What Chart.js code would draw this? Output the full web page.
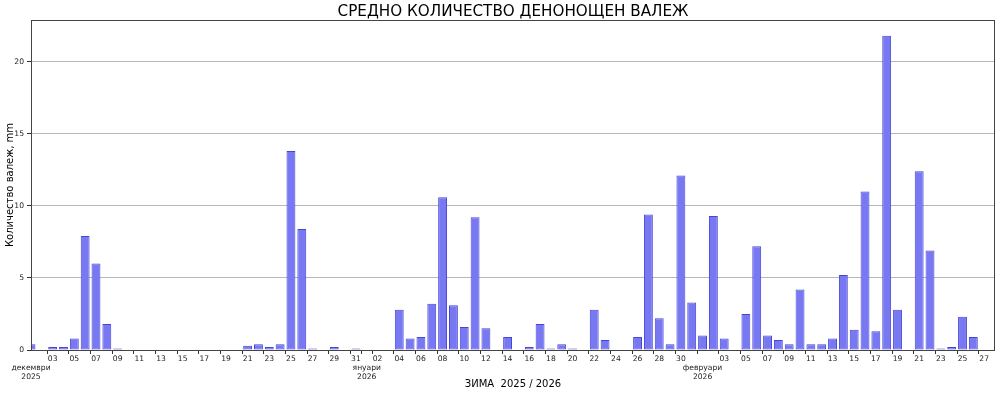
<!DOCTYPE html>
<html>
<head>
<meta charset="utf-8">
<script src="https://cdn.jsdelivr.net/npm/chart.js@4.4.1/dist/chart.umd.min.js"></script>
<style>
  html, body { margin: 0; padding: 0; background: #ffffff; }
  #wrap { width: 1000px; height: 395px; position: relative; }
</style>
</head>
<body>
<div id="wrap"><canvas id="c" width="1000" height="395"></canvas></div>
<script>
// ---- data ----
const decValues = [0.4,0,0.2,0.2,0.8,7.9,6.0,1.8,0.1,0,0,0,0,0,0,0,0,0,0,0,0.3,0.4,0.2,0.4,13.8,8.4,0.1,0,0.2,0,0.1];
const janValues = [0,0,0,2.8,0.8,0.9,3.2,10.6,3.1,1.6,9.2,1.5,0,0.9,0,0.2,1.8,0.1,0.4,0.1,0,2.8,0.7,0,0,0.9,9.4,2.2,0.4,12.1,3.3];
const febValues = [1.0,9.3,0.8,0,2.5,7.2,1.0,0.7,0.4,4.2,0.4,0.4,0.8,5.2,1.4,11.0,1.3,21.8,2.8,0,12.4,6.9,0.1,0.2,2.3,0.9,0,0];
const months = [
  { name: 'декември', year: '2025', days: 31, values: decValues },
  { name: 'януари',   year: '2026', days: 31, values: janValues },
  { name: 'февруари', year: '2026', days: 28, values: febValues }
];
const yTicks = [0, 5, 10, 15, 20];
const yMax = 22.89;
const titleText = 'СРЕДНО КОЛИЧЕСТВО ДЕНОНОЩЕН ВАЛЕЖ';
const yTitle = 'Количество валеж, mm';
const xTitle = 'ЗИМА  2025 / 2026';

// ---- build categories ----
const days = [];
const tickLabels = [];
const values = [];
months.forEach(m => {
  for (let d = 1; d <= m.days; d++) {
    days.push(d);
    values.push(m.values[d - 1]);
  }
});
let monthIdx = 0;
days.forEach((d, i) => {
  if (d === 1) {
    const m = months[monthIdx++];
    tickLabels.push(['', m.name, m.year]);
  } else if (i % 2 === 0) {
    tickLabels.push(String(d).padStart(2, '0'));
  } else {
    tickLabels.push('');
  }
});
const categories = days.map((d, i) => 'd' + i);

const framePlugin = {
  id: 'frame',
  afterDatasetsDraw(chart) {
    const a = chart.chartArea, ctx = chart.ctx;
    ctx.save();
    ctx.strokeStyle = '#444444';
    ctx.lineWidth = 1;
    ctx.strokeRect(Math.round(a.left) + 0.5, Math.round(a.top) + 0.5,
                   Math.round(a.right - a.left) - 1, Math.round(a.bottom - a.top));
    ctx.restore();
  }
};

const FONT = "'DejaVu Sans', sans-serif";

new Chart(document.getElementById('c'), {
  type: 'bar',
  data: {
    labels: categories,
    datasets: [{
      xAxisID: 'x',
      yAxisID: 'y',
      data: values,
      backgroundColor: '#7878f2',
      borderColor: '#4646d6',
      borderWidth: 1,
      borderSkipped: false,
      barPercentage: 0.82,
      categoryPercentage: 1.0
    }]
  },
  options: {
    responsive: false,
    animation: false,
    devicePixelRatio: 1,
    layout: { padding: { left: 0, right: 5, top: 0, bottom: 0 } },
    plugins: {
      legend: { display: false },
      tooltip: { enabled: false },
      title: { display: false }
    },
    scales: {
      x: {
        type: 'category',
        position: 'bottom',
        offset: false,
        border: { display: false },
        grid: {
          display: true,
          drawOnChartArea: false,
          drawTicks: true,
          tickLength: 4,
          tickColor: (ctx) => (tickLabels[ctx.index] !== '' ? '#333333' : 'rgba(0,0,0,0)'),
          color: 'rgba(0,0,0,0)'
        },
        ticks: {
          autoSkip: false,
          maxRotation: 0,
          minRotation: 0,
          padding: 0,
          color: '#222222',
          font: { family: FONT, size: 7.6, lineHeight: 1.2 },
          callback: (v, i) => tickLabels[i]
        },
        title: {
          display: true,
          text: xTitle,
          color: '#000000',
          font: { family: FONT, size: 10, lineHeight: 1.2 },
          padding: { top: 0, bottom: 4.5 }
        },
        afterFit(scale) { scale.height = 45; }
      },
      xTop: {
        type: 'category',
        position: 'top',
        offset: false,
        border: { display: false },
        grid: { display: false, drawTicks: false },
        ticks: { display: false },
        title: {
          display: true,
          text: titleText,
          color: '#000000',
          font: { family: FONT, size: 15.2, weight: 'normal', lineHeight: 1.0 },
          padding: { top: 4.5, bottom: 0 }
        },
        afterFit(scale) { scale.height = 20; }
      },
      y: {
        min: 0,
        max: yMax,
        border: { display: false },
        grid: {
          color: (ctx) => (ctx.tick && ctx.tick.value === 0 ? 'rgba(0,0,0,0)' : '#b8b8b8'),
          tickColor: '#333333',
          tickLength: 4,
          lineWidth: 1
        },
        afterBuildTicks(scale) { scale.ticks = yTicks.map(v => ({ value: v })); },
        ticks: {
          padding: 3,
          color: '#222222',
          font: { family: FONT, size: 7.6 }
        },
        title: {
          display: true,
          text: yTitle,
          color: '#000000',
          font: { family: FONT, size: 10, lineHeight: 1.2 },
          padding: { top: 4, bottom: 0 }
        },
        afterFit(scale) { scale.width = 31; }
      }
    }
  },
  plugins: [framePlugin]
});
</script>
</body>
</html>
